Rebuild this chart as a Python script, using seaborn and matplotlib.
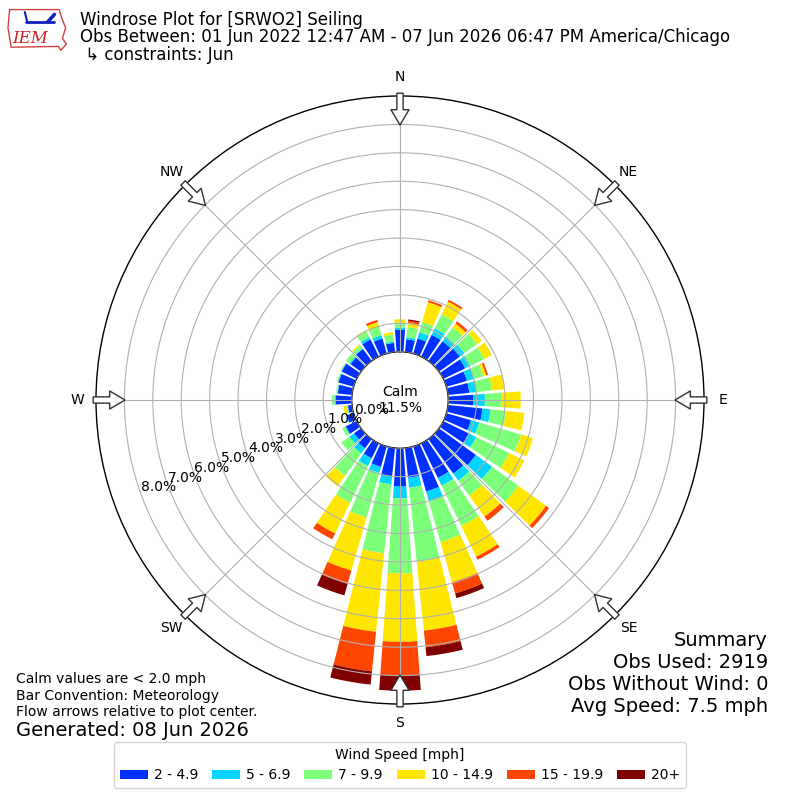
import numpy as np
import matplotlib
matplotlib.use("Agg")
import matplotlib.pyplot as plt
import seaborn as sns
from matplotlib.patches import Patch, Polygon

sns.set_theme(style="white")
plt.rcParams['font.family'] = ['DejaVu Sans']
plt.rcParams['text.color'] = 'black'
plt.rcParams['xtick.color'] = 'black'
plt.rcParams['ytick.color'] = 'black'
plt.rcParams['axes.labelcolor'] = 'black'

# ---- data (percent of observations per direction / speed class) ----
directions = np.arange(0, 360, 10)
speed_labels = ["2 - 4.9", "5 - 6.9", "7 - 9.9", "10 - 14.9", "15 - 19.9", "20+"]
pct_2_5 = [0.77, 0.45, 0.55, 0.85, 0.85, 0.90, 0.85, 0.75, 0.75, 0.88, 1.22, 0.90,
           1.00, 1.60, 1.50, 1.35, 1.65, 1.05, 1.35, 1.00, 0.75, 0.58, 0.40, 0.30,
           0.42, 0.25, 0.14, 0.56, 0.50, 0.55, 0.58, 0.45, 0.52, 0.67, 0.55, 0.32]
pct_5_7 = [0.07, 0.07, 0.23, 0.25, 0.20, 0.20, 0.20, 0.25, 0.25, 0.41, 0.28, 0.30,
           0.28, 0.70, 0.30, 0.30, 0.35, 0.35, 0.41, 0.28, 0.22, 0.30, 0.22, 0.20,
           0.03, 0.02, 0.02, 0.04, 0.02, 0.02, 0.02, 0.05, 0.03, 0.09, 0.12, 0.05]
pct_7_10 = [0.18, 0.36, 0.37, 0.55, 0.40, 0.55, 0.55, 0.35, 0.55, 0.59, 0.55, 1.53,
            1.29, 1.15, 0.66, 1.58, 1.50, 2.62, 2.64, 2.44, 1.63, 1.44, 0.98, 0.35,
            0.11, 0.03, 0.04, 0.10, 0.04, 0.04, 0.03, 0.15, 0.12, 0.22, 0.31, 0.25]
pct_10_15 = [0.12, 0.15, 0.73, 0.50, 0.17, 0.20, 0.30, 0.10, 0.45, 0.67, 0.65, 0.44,
             0.60, 1.20, 0.91, 1.20, 1.47, 2.44, 2.41, 2.78, 1.94, 1.20, 0.45, 0.00,
             0.00, 0.00, 0.10, 0.00, 0.00, 0.00, 0.00, 0.00, 0.05, 0.05, 0.17, 0.08]
pct_15_20 = [0.00, 0.07, 0.07, 0.07, 0.10, 0.00, 0.00, 0.07, 0.00, 0.00, 0.00, 0.00,
             0.00, 0.13, 0.18, 0.12, 0.41, 0.59, 1.17, 1.40, 0.49, 0.23, 0.00, 0.00,
             0.00, 0.00, 0.00, 0.00, 0.00, 0.00, 0.00, 0.00, 0.00, 0.00, 0.08, 0.00]
pct_20p = [0.00, 0.05, 0.00, 0.00, 0.00, 0.00, 0.00, 0.00, 0.00, 0.00, 0.00, 0.00,
           0.00, 0.00, 0.00, 0.00, 0.17, 0.31, 0.55, 0.47, 0.42, 0.00, 0.00, 0.00,
           0.00, 0.00, 0.00, 0.00, 0.00, 0.00, 0.00, 0.00, 0.00, 0.00, 0.00, 0.00]
calm_pct = 11.5
ring_values = [0, 1, 2, 3, 4, 5, 6, 7, 8]
compass_angles = [0, 45, 90, 135, 180, 225, 270, 315]
compass_labels = ["N", "NE", "E", "SE", "S", "SW", "W", "NW"]
colors = sns.color_palette(["#0030ff", "#00d4ff", "#7cff79", "#ffe600", "#ff4600", "#800000"])

bins = [pct_2_5, pct_5_7, pct_7_10, pct_10_15, pct_15_20, pct_20p]

fig = plt.figure(figsize=(8, 8), dpi=100)
ax = fig.add_axes([0.12, 0.12, 0.76, 0.76], projection="polar")
ax.set_theta_zero_location("N")
ax.set_theta_direction(-1)
ax.set_facecolor("white")

theta = np.deg2rad(directions)
bottom = np.zeros(len(directions))
for vals, col in zip(bins, colors):
    vals = np.asarray(vals)
    ax.bar(theta, vals, width=np.deg2rad(8.2), bottom=bottom, color=col,
           edgecolor="none", linewidth=0, zorder=1)
    bottom = bottom + vals

ax.set_rorigin(-1.7)
ax.set_ylim(0, 9)
ax.set_rgrids(ring_values, labels=[f"{v:.1f}%" for v in ring_values], fontsize=10)
ax.set_rlabel_position(250)
ax.set_thetagrids(compass_angles, labels=[""] * len(compass_angles))
ax.grid(True, color="#b0b0b0", linewidth=0.8)
ax.set_axisbelow(False)
for sp in ax.spines.values():
    sp.set_color("black")
    sp.set_linewidth(1.0)

# compass arrows and labels
for ang, lab in zip(compass_angles, compass_labels):
    t = np.deg2rad(ang)
    ax.annotate("", xy=(t, 7.98), xytext=(t, 9.1),
                arrowprops=dict(facecolor="white", edgecolor="#333333", width=4.5,
                                headwidth=13, headlength=11, shrink=0, lw=1),
                annotation_clip=False, zorder=5)
    ax.text(t, 9.67, lab, ha="center", va="center", fontsize=10, clip_on=False)

ax.text(0, -1.7, f"Calm\n{calm_pct:.1f}%", ha="center", va="center", fontsize=10, zorder=6)

# titles
fig.text(0.1, 0.975, "Windrose Plot for [SRWO2] Seiling", fontsize=12, va="center")
fig.text(0.1, 0.954, "Obs Between: 01 Jun 2022 12:47 AM - 07 Jun 2026 06:47 PM America/Chicago",
         fontsize=12, va="center")
fig.text(0.1, 0.931, " \u21b3 constraints: Jun", fontsize=12, va="center")

# logo approximation
logo = Polygon([[0.012, 0.988], [0.074, 0.988], [0.077, 0.978], [0.082, 0.965], [0.078, 0.952],
                [0.083, 0.945], [0.076, 0.937], [0.073, 0.942], [0.014, 0.941], [0.01, 0.965]],
               closed=True, transform=fig.transFigure, facecolor="white",
               edgecolor="#d04040", linewidth=1)
fig.patches.append(logo)
fig.lines.append(plt.Line2D([0.032, 0.068], [0.973, 0.973], color="#1020c0", lw=2,
                            transform=fig.transFigure))
fig.lines.append(plt.Line2D([0.034, 0.031], [0.973, 0.985], color="#1020c0", lw=1.5,
                            transform=fig.transFigure))
fig.lines.append(plt.Line2D([0.06, 0.068], [0.973, 0.982], color="#1020c0", lw=2.5,
                            transform=fig.transFigure))
fig.text(0.038, 0.952, "IEM", color="#d02020", fontsize=12, family="DejaVu Serif",
         style="italic", ha="center", va="center")

# notes
fig.text(0.02, 0.151, "Calm values are < 2.0 mph", fontsize=10, va="center")
fig.text(0.02, 0.130, "Bar Convention: Meteorology", fontsize=10, va="center")
fig.text(0.02, 0.110, "Flow arrows relative to plot center.", fontsize=10, va="center")
fig.text(0.02, 0.0875, "Generated: 08 Jun 2026", fontsize=14, va="center")

fig.text(0.96, 0.200, "Summary", fontsize=14, ha="right", va="center")
fig.text(0.96, 0.1725, "Obs Used: 2919", fontsize=14, ha="right", va="center")
fig.text(0.96, 0.145, "Obs Without Wind: 0", fontsize=14, ha="right", va="center")
fig.text(0.96, 0.1175, "Avg Speed: 7.5 mph", fontsize=14, ha="right", va="center")

handles = [Patch(facecolor=c, edgecolor="none") for c in colors]
fig.legend(handles, speed_labels, loc="lower center", bbox_to_anchor=(0.5, 0.015),
           borderaxespad=0, ncol=6, title="Wind Speed [mph]", fontsize=10,
           title_fontsize=10, frameon=True, handleheight=0.7, handlelength=2.0,
           handletextpad=0.45, columnspacing=1.0)

fig.savefig("out.png", dpi=100, facecolor="white")
